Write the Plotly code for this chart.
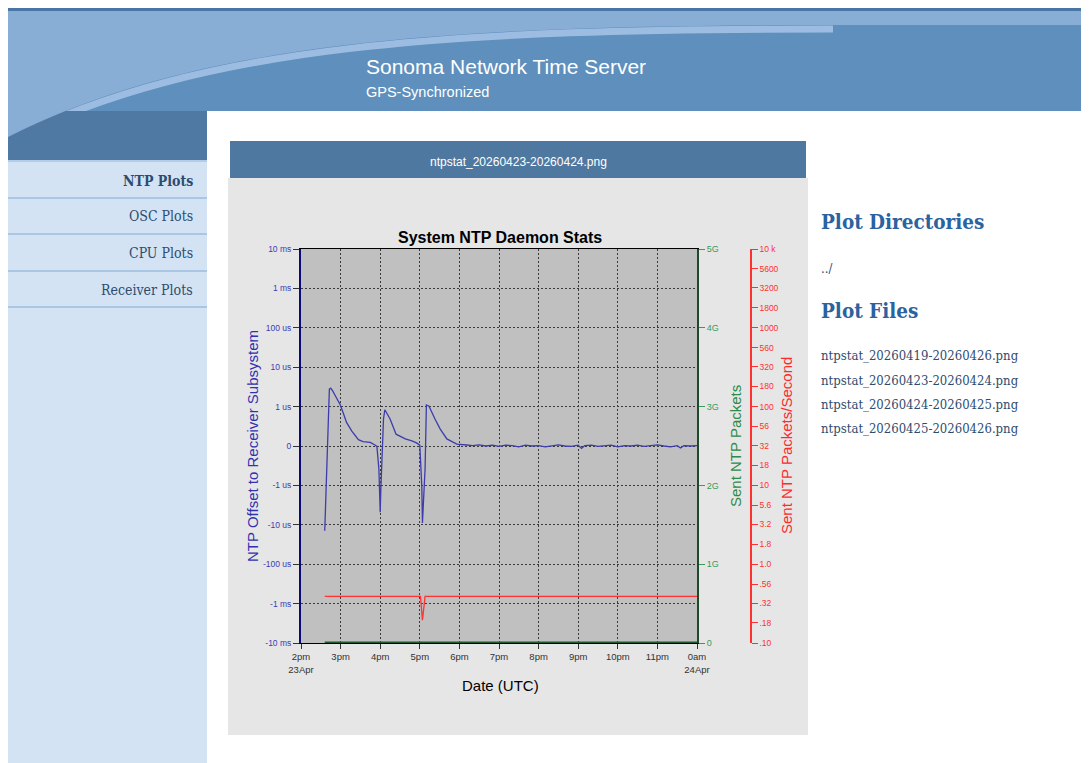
import math
import plotly.graph_objects as go

W, H = 1089, 763
OX, OY = 8, 8  # page offset of the figure inside the browser body

# ---------------- data ----------------
blue_times = ["14:36", "14:43", "14:45", "14:48", "14:53", "14:59", "15:04", "15:09", "15:17", "15:27",
              "15:34", "15:45", "15:52", "15:55", "15:58", "16:00", "16:01", "16:03", "16:05", "16:07",
              "16:10", "16:15", "16:24", "16:38", "16:48", "16:55", "17:00", "17:03", "17:04", "17:06",
              "17:08", "17:10", "17:14", "17:23", "17:31", "17:41", "17:56", "18:11", "18:20", "18:30",
              "18:40", "18:50", "19:00", "19:10", "19:20", "19:30", "19:40", "19:50", "20:00", "20:10",
              "20:20", "20:30", "20:40", "20:50", "21:00", "21:05", "21:10", "21:20", "21:30", "21:40",
              "21:50", "22:00", "22:10", "22:20", "22:30", "22:40", "22:50", "23:00", "23:10", "23:20",
              "23:30", "23:35", "23:40", "23:50", "24:00"]
blue_offset_us = [-14.1, 2.8, 2.95, 2.5, 1.75, 1.16, 0.84, 0.60, 0.38, 0.16,
                  0.11, 0.09, 0.025, -0.01, -0.58, -4.8, -1.23, -0.08, 0.685, 0.92,
                  0.84, 0.685, 0.30, 0.18, 0.13, 0.08, 0.02, -1.02, -9.0, -2.2,
                  -0.58, 1.1, 1.02, 0.685, 0.43, 0.18, 0.05, 0.025, 0.01, 0.03,
                  0.0, 0.02, -0.01, 0.02, 0.01, -0.02, 0.02, 0.0, 0.01, -0.02,
                  0.01, 0.03, 0.0, -0.01, 0.02, -0.06, 0.01, 0.02, -0.01, 0.0,
                  0.02, -0.02, 0.01, 0.0, 0.02, -0.01, 0.01, 0.03, 0.0, -0.02,
                  0.01, -0.05, 0.01, 0.0, 0.01]

red_times = ["14:36", "17:01", "17:04", "17:08", "24:00"]
red_rate = [0.39, 0.39, 0.195, 0.39, 0.39]

green_times = ["14:36", "17:00", "24:00"]
green_packets = [0, 3370, 13200]

x_tick_times = ["14:00", "15:00", "16:00", "17:00", "18:00", "19:00", "20:00", "21:00", "22:00", "23:00", "24:00"]
x_tick_text = ["2pm<br>23Apr", "3pm", "4pm", "5pm", "6pm", "7pm", "8pm", "9pm", "10pm", "11pm", "0am<br>24Apr"]

left_tick_vals = [-5, -4, -3, -2, -1, 0, 1, 2, 3, 4, 5]
left_tick_text = ["-10 ms", "-1 ms", "-100 us", "-10 us", "-1 us", "0", "1 us", "10 us", "100 us", "1 ms", "10 ms"]

green_tick_vals = [0, 1e9, 2e9, 3e9, 4e9, 5e9]
green_tick_text = ["0", "1G", "2G", "3G", "4G", "5G"]

red_tick_vals = [0.10, 0.18, 0.32, 0.56, 1.0, 1.8, 3.2, 5.6, 10, 18, 32, 56, 100, 180, 320, 560,
                 1000, 1800, 3200, 5600, 10000]
red_tick_text = [".10", ".18", ".32", ".56", "1.0", "1.8", "3.2", "5.6", "10", "18", "32", "56", "100",
                 "180", "320", "560", "1000", "1800", "3200", "5600", "10 k"]

menu_items = ["<b>NTP Plots</b>", "OSC Plots", "CPU Plots", "Receiver Plots"]
plot_files = ["ntpstat_20260419-20260426.png", "ntpstat_20260423-20260424.png",
              "ntpstat_20260424-20260425.png", "ntpstat_20260425-20260426.png"]


# ---------------- helpers ----------------
def ts(hm):
    h, m = hm.split(":")
    if h == "24":
        return "2026-04-24 00:%s" % m
    return "2026-04-23 %s:%s" % (h, m)


def symlog(v):
    # plot scale: linear between -1us and 1us, one decade per step outside
    if abs(v) < 1:
        return v
    return math.copysign(math.log10(abs(v)) + 1, v)


def px(x):
    return (x - OX) / W


def py(y):
    return 1 - (y - OY) / H


def pt(p):
    return "%.5f,%.5f" % (px(p[0]), py(p[1]))


def rect(x0, y0, x1, y1, color):
    return dict(type="rect", xref="paper", yref="paper", x0=px(x0), x1=px(x1), y0=py(y1), y1=py(y0),
                fillcolor=color, line=dict(width=0), layer="below")


def hline(x0, x1, y, color, w=1):
    return dict(type="line", xref="paper", yref="paper", x0=px(x0), x1=px(x1), y0=py(y), y1=py(y),
                line=dict(color=color, width=w), layer="below")


def shape_path(s, fill=None, stroke=None, w=0):
    d = dict(type="path", xref="paper", yref="paper", path=s, layer="below",
             line=dict(width=w, color=stroke or "rgba(0,0,0,0)"))
    if fill:
        d["fillcolor"] = fill
    return d


# ---------------- figure ----------------
fig = go.Figure()

fig.add_trace(go.Scatter(x=[ts(t) for t in green_times], y=green_packets, yaxis="y2", mode="lines",
                         line=dict(color="#1d5a2c", width=3), hoverinfo="skip", showlegend=False))
fig.add_trace(go.Scatter(x=[ts(t) for t in red_times], y=red_rate, yaxis="y3", mode="lines",
                         line=dict(color="#ff3333", width=1.3), hoverinfo="skip", showlegend=False))
fig.add_trace(go.Scatter(x=[ts(t) for t in blue_times], y=[symlog(v) for v in blue_offset_us], yaxis="y",
                         mode="lines", line=dict(color="#3c3cae", width=1.3), hoverinfo="skip",
                         showlegend=False))

RIGHT = W + OX
highlight = "M %s C %s %s %s" % (pt((833, 29)), pt((450, 29)), pt((200, 44)), pt((8, 141)))
light = "M %s L %s L %s L %s C %s %s %s Z" % (pt((8, 11)), pt((RIGHT, 11)), pt((RIGHT, 25)), pt((833, 25)),
                                              pt((450, 25)), pt((200, 40)), pt((8, 137)))

shapes = [
    rect(8, 7, RIGHT, 11, "#4a76a6"),
    rect(8, 11, RIGHT, 111, "#5e8fbd"),
    shape_path(highlight, stroke="#9cbde1", w=7),
    rect(8, 111, 207, 160, "#4f79a3"),
    shape_path(light, fill="#88aed6"),
    rect(8, 160, 207, RIGHT, "#d3e3f4"),
    hline(8, 207, 161, "#a9c6e4", 1.5),
    hline(8, 207, 198, "#9dbcdc", 1.5),
    hline(8, 207, 234, "#9dbcdc", 1.5),
    hline(8, 207, 271, "#9dbcdc", 1.5),
    hline(8, 207, 307, "#9dbcdc", 1.5),
    rect(230, 141, 806, 178, "#4f78a1"),
    rect(228, 178, 808, 735, "#e6e6e6"),
    rect(301, 249, 697, 643, "#c0c0c0"),
]

sans = "Liberation Sans, Arial, sans-serif"
serif = "DejaVu Serif Condensed, DejaVu Serif, serif"
ann = []


def text(t, x, y, size, color, xa="left", font=sans, angle=0):
    ann.append(dict(text=t, x=px(x), y=py(y), xref="paper", yref="paper", showarrow=False,
                    xanchor=xa, yanchor="middle", textangle=angle,
                    font=dict(family=font, size=size, color=color)))


text("Sonoma Network Time Server", 364, 67, 21, "white")
text("GPS-Synchronized", 364, 92, 14.5, "white")
text("ntpstat_20260423-20260424.png", 518, 162, 12, "white", xa="center")
for item, y in zip(menu_items, [181, 216, 253, 290]):
    text(item, 195, y, 14, "#2f4b6e", xa="right", font=serif)
text("<b>Plot Directories</b>", 819, 222, 20.5, "#2b62a0", font=serif)
text("../", 819, 268, 13, "#2f4b6e", font=serif)
text("<b>Plot Files</b>", 819, 311, 20.5, "#2b62a0", font=serif)
for f, y in zip(plot_files, [355, 380, 404, 428]):
    text(f, 819, y, 13, "#2f4b6e", font=serif)

text("<b>System NTP Daemon Stats</b>", 500, 237, 16, "black", xa="center")
text("NTP Offset to Receiver Subsystem", 252, 446, 15, "#3232b0", xa="center", angle=-90)
text("Sent NTP Packets", 735, 446, 15, "#2e8b47", xa="center", angle=-90)
text("Sent NTP Packets/Second", 786, 446, 15, "#ff2a2a", xa="center", angle=-90)
text("Date (UTC)", 500, 685, 15, "black", xa="center")

grid = dict(showgrid=True, gridcolor="#3a3a3a", gridwidth=1, griddash="2px,2px")

fig.update_layout(
    template="none",
    width=W, height=H, autosize=False,
    margin=dict(l=0, r=0, t=0, b=0, pad=0, autoexpand=False),
    paper_bgcolor="white", plot_bgcolor="rgba(0,0,0,0)",
    shapes=shapes, annotations=ann, showlegend=False,
    xaxis=dict(type="date", domain=[px(301), px(697)], automargin=False,
               range=[ts("14:00"), ts("24:00")],
               tickmode="array", tickvals=[ts(t) for t in x_tick_times], ticktext=x_tick_text,
               tickfont=dict(family=sans, size=9.5, color="#333333"),
               ticks="outside", ticklen=5, tickcolor="#333333",
               showline=True, linecolor="black", linewidth=1, mirror=True,
               zeroline=False, anchor="y", **grid),
    yaxis=dict(domain=[py(643), py(249)], range=[-5, 5], automargin=False,
               tickmode="array", tickvals=left_tick_vals, ticktext=left_tick_text,
               tickfont=dict(family=sans, size=8.5, color="#3c3cb4"),
               ticks="outside", ticklen=6, tickcolor="#333333",
               showline=True, linecolor="#0a0a78", linewidth=2,
               zeroline=False, anchor="x", **grid),
    yaxis2=dict(overlaying="y", side="right", anchor="x", range=[0, 5e9], automargin=False,
                tickmode="array", tickvals=green_tick_vals, ticktext=green_tick_text,
                tickfont=dict(family=sans, size=9, color="#3a9a5a"),
                ticks="outside", ticklen=6, tickcolor="#3a9a5a",
                showline=True, linecolor="#1d4a28", linewidth=2,
                showgrid=False, zeroline=False),
    yaxis3=dict(overlaying="y", side="right", anchor="free", position=px(751), type="log",
                range=[-1, 4], automargin=False,
                tickmode="array", tickvals=red_tick_vals, ticktext=red_tick_text,
                tickfont=dict(family=sans, size=8.5, color="#ff3030"),
                ticks="outside", ticklen=6, tickcolor="#ff3030",
                showline=True, linecolor="#ff3030", linewidth=1.5,
                showgrid=False, zeroline=False),
)

fig.write_html("out.html")
